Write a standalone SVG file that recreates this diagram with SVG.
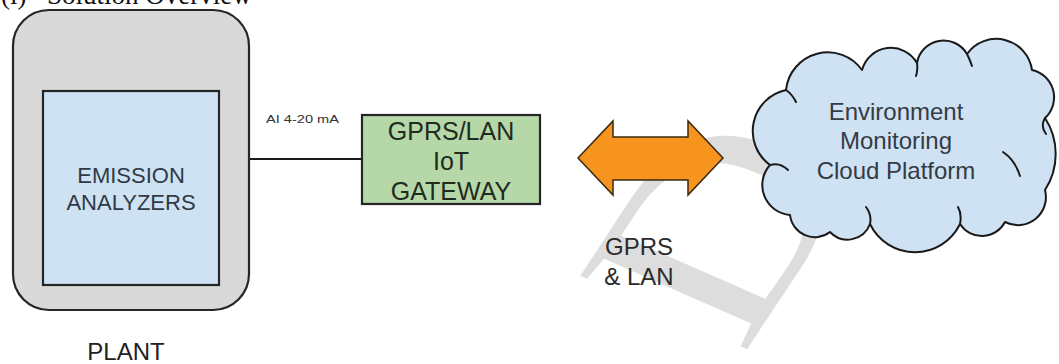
<svg xmlns="http://www.w3.org/2000/svg" width="1059" height="364" viewBox="0 0 1059 364">
  <style>
    .sans { font-family: "Liberation Sans", Arial, sans-serif; }
    .box { stroke: #262626; stroke-width: 2.2; }
    .lbl { font-family: "Liberation Sans", Arial, sans-serif; text-anchor: middle; }
  </style>
  <rect width="1059" height="364" fill="#ffffff"/>
  <!-- watermark -->
  <text x="0" y="0" font-family="Liberation Serif, serif" font-size="280" fill="#dddddd" transform="matrix(0.594 -0.907 0.91 0.40 742.4 356.5)">D</text>
  <!-- title (cut off at top) -->
  <text font-family="Liberation Serif, serif" font-size="27" fill="#111" y="4"><tspan x="1">(i)</tspan><tspan x="47">Solution Overview</tspan></text>

  <g id="connectors">
    <line x1="249" y1="159" x2="362" y2="159" stroke="#1a1a1a" stroke-width="2"/>
    <text class="sans" x="266" y="123" font-size="11" fill="#333" textLength="73" lengthAdjust="spacingAndGlyphs">AI 4-20 mA</text>
  </g>

  <g id="plant">
    <rect class="box" x="13" y="10" width="236" height="300" rx="36" ry="36" fill="#d9d9d9"/>
    <text class="lbl" x="126" y="360" font-size="24" fill="#222">PLANT</text>
  </g>

  <g id="emission-analyzers">
    <rect class="box" x="43" y="91" width="176" height="194" fill="#cfe2f3"/>
    <text class="lbl" x="131" y="183" font-size="22" fill="#2e3a46">EMISSION</text>
    <text class="lbl" x="131" y="210" font-size="22" fill="#2e3a46">ANALYZERS</text>
  </g>

  <g id="gateway">
    <rect class="box" x="362" y="115" width="178" height="89" fill="#b6d7a8"/>
    <text class="lbl" x="451" y="140" font-size="25" fill="#1e2b1e">GPRS/LAN</text>
    <text class="lbl" x="451" y="170" font-size="25" fill="#1e2b1e">IoT</text>
    <text class="lbl" x="451" y="200" font-size="25" fill="#1e2b1e">GATEWAY</text>
  </g>

  <g id="gprs-lan-link">
    <polygon points="578,158 613,121 613,137 688,137 688,121 723,158 688,195 688,180 613,180 613,195" fill="#f7941e" stroke="#3a2a10" stroke-width="1.5" stroke-linejoin="miter"/>
    <text class="lbl" x="639" y="255" font-size="24" fill="#2a2a2a">GPRS</text>
    <text class="lbl" x="639" y="285" font-size="24" fill="#2a2a2a">&amp; LAN</text>
  </g>

  <g id="cloud">
    <path d="M786,90 A42,42 0 0 1 862,70 A30,30 0 0 1 917,63 A27,27 0 0 1 967,54 A36,36 0 0 1 1032,70 A28,28 0 0 1 1045,118 A66,66 0 0 1 1045,190 A28,28 0 0 1 1005,222 A26,26 0 0 1 960,224 A50,50 0 0 1 870,224 A24,24 0 0 1 830,232 A25,25 0 0 1 790,215 A30,30 0 0 1 770,165 A42,42 0 0 1 786,90 Z" fill="#cfe2f3" stroke="#1a1a1a" stroke-width="2" stroke-linejoin="round"/>
    <path d="M770,165 Q780,162 788,170 M870,224 Q872,215 866,207 M960,224 Q962,214 958,207 M1003,152 Q1015,160 1020,176 M1045,118 Q1040,126 1046,134 M917,63 Q918,70 916,76 M967,54 Q970,60 972,66 M786,90 Q792,94 796,102" fill="none" stroke="#1a1a1a" stroke-width="2" stroke-linecap="round"/>
    <text class="lbl" x="896" y="120" font-size="24" fill="#333b44">Environment</text>
    <text class="lbl" x="896" y="149" font-size="24" fill="#333b44">Monitoring</text>
    <text class="lbl" x="896" y="179" font-size="24" fill="#333b44">Cloud Platform</text>
  </g>
</svg>
